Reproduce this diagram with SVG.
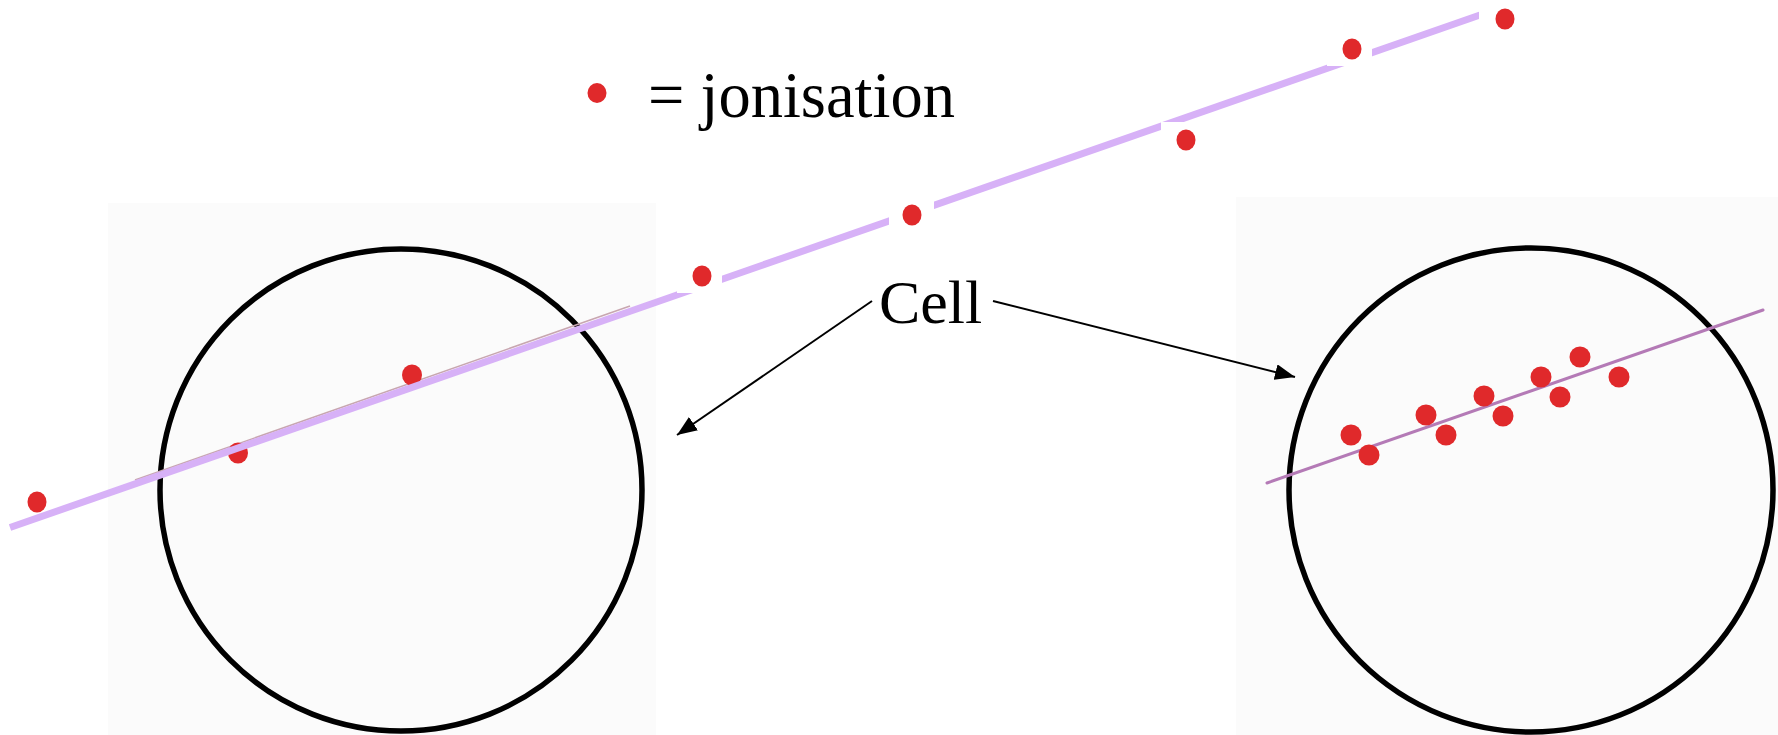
<svg xmlns="http://www.w3.org/2000/svg" width="1778" height="735" viewBox="0 0 1778 735">
  <style>
    .bg { fill: #fbfbfb; }
    .cell { fill: none; stroke: #000; stroke-width: 5.5; }
    .dot { fill: #e0292b; }
    .mask { fill: #ffffff; }
    .track { stroke: #d7b1f7; stroke-width: 7; fill: none; }
    .thin { stroke: #c8a6b0; stroke-width: 1.5; fill: none; }
    .track2 { stroke: #b47ab6; stroke-width: 3; fill: none; stroke-linecap: round; }
    .lbl { font-family: "Liberation Serif", "Times New Roman", serif; fill: #000; }
    .conn { stroke: #000; stroke-width: 2; fill: none; }
  </style>
  <defs>
    <marker id="arrow" markerUnits="userSpaceOnUse" markerWidth="22" markerHeight="16" refX="20" refY="8" orient="auto">
      <path d="M0,0 L20,8 L0,16 Z" fill="#000"/>
    </marker>
  </defs>
  <rect width="1778" height="735" fill="#ffffff"/>

  <g id="cell-left">
    <rect class="bg" x="108" y="203" width="548" height="532"/>
    <circle class="cell" cx="401" cy="490" r="241"/>
    <line class="thin" x1="135" y1="480" x2="630" y2="306"/>
    <ellipse class="dot" cx="238" cy="453" rx="10" ry="10.5"/>
    <ellipse class="dot" cx="412" cy="375" rx="10" ry="10.5"/>
  </g>

  <g id="cell-right">
    <rect class="bg" x="1236" y="197" width="542" height="538"/>
    <circle class="cell" cx="1531" cy="490" r="242"/>
    <line class="track2" x1="1267" y1="483" x2="1763" y2="310"/>
    <circle class="dot" cx="1351" cy="435" r="10.5"/>
    <circle class="dot" cx="1369" cy="455" r="10.5"/>
    <circle class="dot" cx="1426" cy="415" r="10.5"/>
    <circle class="dot" cx="1446" cy="435" r="10.5"/>
    <circle class="dot" cx="1484" cy="396" r="10.5"/>
    <circle class="dot" cx="1503" cy="416" r="10.5"/>
    <circle class="dot" cx="1541" cy="377" r="10.5"/>
    <circle class="dot" cx="1560" cy="397" r="10.5"/>
    <circle class="dot" cx="1580" cy="357" r="10.5"/>
    <circle class="dot" cx="1619" cy="377" r="10.5"/>
  </g>

  <g id="particle-track">
    <line class="track" x1="10" y1="527.5" x2="1480" y2="15"/>
    <rect class="mask" x="677" y="256" width="45" height="37"/>
    <rect class="mask" x="889" y="197" width="45" height="35"/>
    <rect class="mask" x="1161" y="122" width="45" height="36"/>
    <rect class="mask" x="1327" y="29" width="45" height="37"/>
    <rect class="mask" x="1479" y="0" width="45" height="36"/>
    <ellipse class="dot" cx="37" cy="502" rx="9.5" ry="10.5"/>
    <ellipse class="dot" cx="702" cy="276" rx="9.5" ry="10.5"/>
    <ellipse class="dot" cx="912" cy="215" rx="9.5" ry="10.5"/>
    <ellipse class="dot" cx="1186" cy="140" rx="9.5" ry="10.5"/>
    <ellipse class="dot" cx="1352" cy="49" rx="9.5" ry="10.5"/>
    <ellipse class="dot" cx="1505" cy="19" rx="9.5" ry="10.5"/>
  </g>

  <g id="legend">
    <ellipse class="dot" cx="597" cy="93" rx="9.5" ry="10"/>
    <text class="lbl" x="648" y="117" font-size="64.5">= jonisation</text>
  </g>

  <g id="label-cell">
    <text class="lbl" x="879" y="323" font-size="62">Cell</text>
  </g>

  <g id="connectors">
    <line class="conn" x1="872" y1="301" x2="677" y2="435" marker-end="url(#arrow)"/>
    <line class="conn" x1="993" y1="301" x2="1295" y2="377" marker-end="url(#arrow)"/>
  </g>
</svg>
